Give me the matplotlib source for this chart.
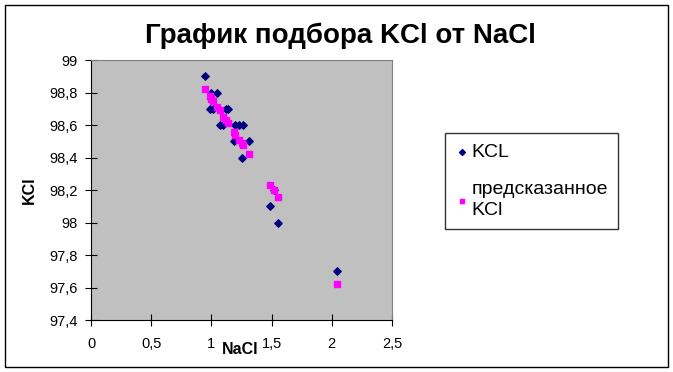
import matplotlib.pyplot as plt
from matplotlib.patches import Rectangle
from matplotlib.ticker import FuncFormatter

# measured points
nacl = [0.95, 0.99, 1.01, 1.00, 1.05, 1.07, 1.10, 1.12, 1.14, 1.20, 1.23, 1.26,
        1.19, 1.31, 1.25, 1.49, 1.52, 1.55, 2.04]
kcl = [98.9, 98.7, 98.7, 98.8, 98.8, 98.6, 98.6, 98.7, 98.7, 98.6, 98.6, 98.6,
       98.5, 98.5, 98.4, 98.1, 98.2, 98.0, 97.7]
# predicted values
kcl_pred = [98.82, 98.78, 98.75, 98.76, 98.71, 98.69, 98.65, 98.63, 98.61, 98.54,
            98.51, 98.48, 98.56, 98.42, 98.49, 98.23, 98.20, 98.16, 97.62]

plt.rcParams['font.family'] = ['Liberation Sans', 'DejaVu Sans']

fig = plt.figure(figsize=(6.73, 3.72), dpi=100)
fig.patches.append(Rectangle((5 / 673, 5 / 372), 663 / 673, 362 / 372, transform=fig.transFigure,
                             fill=False, edgecolor='black', linewidth=1))

ax = fig.add_axes([91 / 673, 52 / 372, 301 / 673, 260 / 372])
ax.set_facecolor('#c0c0c0')
ax.scatter(nacl, kcl, marker='D', s=14, color='#000080', label='KCL', zorder=3)
ax.scatter(nacl, kcl_pred, marker='s', s=16, color='#ff00ff', label='предсказанное\nKCl', zorder=4)

ax.set_xlim(0, 2.5)
ax.set_ylim(97.4, 99)
ax.set_xticks([0, 0.5, 1, 1.5, 2, 2.5])
ax.set_yticks([97.4, 97.6, 97.8, 98, 98.2, 98.4, 98.6, 98.8, 99])
fmt = FuncFormatter(lambda v, p: ('%g' % round(v, 2)).replace('.', ','))
ax.xaxis.set_major_formatter(fmt)
ax.yaxis.set_major_formatter(fmt)
ax.tick_params(labelsize=10.5, length=9, width=0.8, direction='inout')
ax.tick_params(axis='y', pad=5)
ax.tick_params(axis='x', pad=8)
for s in ['top', 'right']:
    ax.spines[s].set_color('#808080')
for s in ['left', 'bottom']:
    ax.spines[s].set_color('black')

fig.text(340 / 673, 1 - 36 / 372, 'График подбора KCl от NaCl', ha='center', va='center',
         fontsize=20, fontweight='bold')
fig.text(29 / 673, 1 - 190 / 372, 'KCl', rotation=90, ha='center', va='center',
         fontsize=11.5, fontweight='bold')
fig.text(240 / 673, 1 - 350 / 372, 'NaCl', ha='center', va='center',
         fontsize=11.5, fontweight='bold')

leg = fig.legend(loc='upper left', bbox_to_anchor=(445 / 673, 1 - 133 / 372), fontsize=14,
                 frameon=True, fancybox=False, edgecolor='black', handletextpad=0.2,
                 handlelength=0.6, labelspacing=1.0, borderpad=0.55, borderaxespad=0,
                 markerscale=0.8)
leg.get_frame().set_linewidth(1)
for t in leg.get_texts():
    t.set_linespacing(1.3)

fig.savefig('out.png', dpi=100)
